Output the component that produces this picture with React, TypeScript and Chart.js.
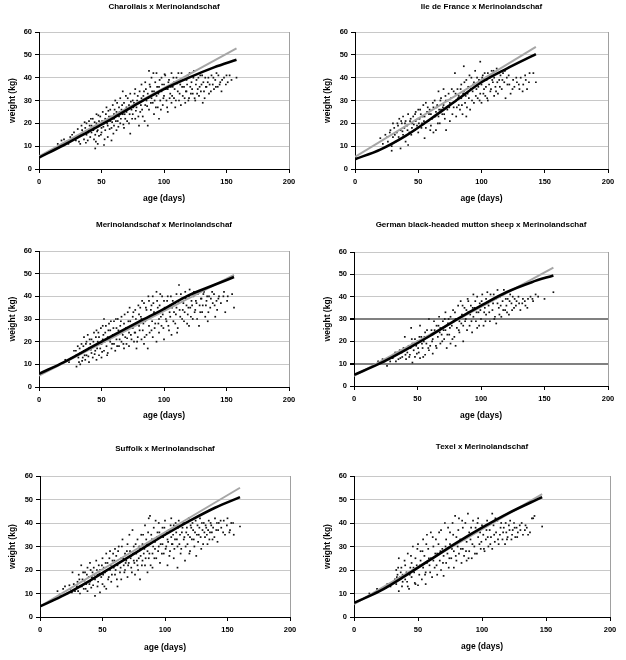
import React, { useEffect, useRef } from "react";
import { Chart, registerables } from "chart.js";

Chart.register(...registerables);

// ---------- axis settings ----------
const xMin = 0;
const xMax = 200;
const xStep = 50;
const yMin = 0;
const yMax = 60;
const yStep = 10;
const xAxisTitle = "age (days)";
const yAxisTitle = "weight (kg)";

// ---------- panel titles ----------
const titleCharollais = "Charollais x Merinolandschaf";
const titleIleDeFrance = "Ile de France x Merinolandschaf";
const titleMerino = "Merinolandschaf x Merinolandschaf";
const titleGerman = "German black-headed mutton sheep x Merinolandschaf";
const titleSuffolk = "Suffolk x Merinolandschaf";
const titleTexel = "Texel x Merinolandschaf";

// ---------- observed weights [age, weight] ----------
const charollaisPoints: number[][] = [
  [0,3.8],[0,4.5],[0,5],[0,5.5],[0,6],[0,6.5],
  [15,11],[18,12.5],[20,13],[22,12],[25,14],[27,13],[28,16],[30,14],[31,17.5],[32,12],[33,11],[33,15],[34,19],[35,16],[36,13],[37,18],[38,20],[38,15],[39,12.5],[40,17],[40,21],[41,14],[42,19],[42,16],[43,22],[44,13],[44,18],[45,9],[45,15],[46,20],[46,24],[47,17],[47,11],[48,21],[48,14.5],[49,23],[50,18],[50,16],[51,25],[52,10.5],[52,20],[53,22],[53,17],[54,27],[55,19],[55,14],[56,23],[57,21],[57,26],[58,12.5],[58,18],[59,28],[60,22],[60,24],[60,19],[61,30],[62,17],[62,25],[63,21],[64,27],[64,23],[65,20],[65,31],[66,26],[67,24],[67,34],[68,18],[68,29],[69,22],[70,27],[70,25],[71,31],[72,20],[72,28],[73,15.5],[73,33],[74,26],[75,24],[75,30],[76,29],[77,22],[77,35],[78,27],[79,32],[80,19],[80,29],[81,25],[82,37],[82,31],[83,23],[84,34],[85,28],[85,38],[86,30],[87,19],[87,33],[88,43],[88,26],[89,36],[90,31],[90,40],[91,29],[92,34],[92,24],[93,38],[94,42],[94,32],[95,27],[96,36],[96,22],[97,30],[98,40],[98,34],[99,28],[100,37],[100,32],[101,41],[102,30],[103,35],[103,25],[104,39],[105,33],[106,42],[106,29],[107,36],[108,31],[108,38],[109,27],[110,40],[111,34],[112,30],[113,37],[114,42],[115,32],[116,36],[117,29],[118,39],[118,34],[119,41],[120,31],[121,36],[122,38],[123,33],[124,43],[125,30],[126,39],[127,35],[128,32],[129,41],[130,37],[131,29],[132,34],[133,40],[134,36],[135,38],[136,33],[138,41],[139,37],[140,35],[141,39],[142,42],[143,36],[145,38],[146,34],[148,40],[150,41],[151,38],[154,39],[158,40],
  [23.5,11],[26.5,15],[29.5,12.5],[31.5,14.5],[34.5,17],[36.5,20.5],[37.5,11.5],[39.5,16],[40.5,19],[41.5,22],[43.5,17],[44.5,20.5],[45.5,12],[46.5,16.5],[47.5,23.5],[49.5,15],[50.5,21],[51.5,18.5],[52.5,13],[53.5,24],[54.5,20],[55.5,25.5],[56.5,17.5],[57.5,23],[58.5,20.5],[59.5,15.5],[60.5,26],[61.5,21],[62.5,29],[63.5,18.5],[64.5,25],[65.5,22],[66.5,28],[67.5,19.5],[68.5,24],[69.5,32],[70.5,21],[71.5,26.5],[72.5,24],[73.5,29.5],[74.5,22],[75.5,27],[76.5,33],[77.5,25.5],[78.5,30],[79.5,23],[80.5,34],[81.5,28],[82.5,26],[83.5,32],[84.5,21],[85.5,35],[86.5,27.5],[87.5,31],[88.5,37],[89.5,29],[90.5,34],[91.5,42],[92.5,30],[93.5,27],[94.5,36],[95.5,33],[96.5,39],[97.5,26],[98.5,37],[99.5,31],[100.5,41.5],[101.5,35],[102.5,27],[103.5,38],[104.5,31],[105.5,36],[106.5,32],[107.5,40],[108.5,35],[109.5,30],[110.5,37.5],[111.5,42],[112.5,33],[113.5,28],[114.5,36],[115.5,39],[116.5,31],[117.5,34],[118.5,37],[119.5,30],[120.5,42],[121.5,33],[122.5,35],[123.5,40],[124.5,31],[125.5,37],[126.5,33],[127.5,40],[128.5,36],[129.5,34],[130.5,41],[131.5,38],[132.5,31],[133.5,36],[135.5,40],[136.5,37],[137.5,34],[139.5,40],[141.5,36],[143.5,41],[144.5,37],[146.5,39],[149.5,37],[152.5,41]
];

const ileDeFrancePoints: number[][] = [
  [0,3.5],[0,4],[0,4.5],[0,5],[0,5.5],[0,6],
  [20,13.5],[22,11],[24,15],[26,12],[28,17],[29,8],[29,10],[30,20],[30,14],[31,18],[32,12],[33,16],[34,19],[35,22],[35,13],[36,9],[36,17],[37,20],[38,15],[38,23],[39,18],[40,21],[40,12],[41,19],[42,24],[42,10.5],[43,16],[44,22],[45,20],[45,18],[46,23],[47,17],[48,25],[48,21],[49,19],[50,26],[50,16],[51,22],[52,24],[53,20],[54,28],[55,13.5],[55,23],[56,29],[56,18],[57,25],[58,21],[59,26],[60,24],[60,19],[61,22],[62,27],[62,16],[63,30],[64,25],[64,17],[65,28],[66,23],[66,34],[67,20],[68,26],[68,31],[69,24],[70,35],[70,28],[71,22],[72,30],[72,17],[73,26],[74,33],[75,29],[75,21],[76,31],[77,24],[78,34],[78,27],[79,42],[80,30],[80,23],[81,35],[82,28],[82,32],[83,26],[84,37],[84,31],[85,24],[86,45],[86,34],[87,29],[88,39],[88,23],[89,33],[90,36],[90,31],[91,26],[92,40],[93,34],[94,38],[94,29],[95,43],[96,35],[97,31],[98,39],[99,47],[99,33],[100,37],[100,29],[101,41],[102,35],[103,32],[104,39],[105,42],[105,30],[106,37],[107,34],[108,43],[109,38],[110,32],[110,40],[111,36],[112,44],[113,33],[114,39],[115,41],[116,35],[117,42],[118,38],[119,31],[120,40],[122,37],[123,33],[125,39],[126,36],[128,38],[130,35],[131,40],[133,37],[135,39],[136,35],[138,42],[141,42],[143,38],
  [25.5,14],[27.5,16],[31.5,15],[33.5,20],[34.5,14],[36.5,21],[37.5,16.5],[39.5,20],[41.5,17],[43.5,21],[44.5,15],[46.5,19.5],[47.5,24],[49.5,22],[50.5,20],[51.5,26],[52.5,18],[53.5,23],[54.5,21],[57.5,27],[58.5,24],[59.5,17],[61.5,29],[63.5,23],[64.5,27],[65.5,20],[66.5,26],[67.5,30],[69.5,27],[70.5,24],[71.5,32],[73.5,30],[74.5,27],[76.5,35],[77.5,29],[79.5,33],[80.5,27],[81.5,31],[83.5,35],[84.5,28],[85.5,33],[86.5,38],[87.5,32],[88.5,27],[89.5,36],[90.5,41],[91.5,35],[92.5,30],[93.5,37],[95.5,32],[96.5,40],[97.5,36],[98.5,30],[100.5,40],[101.5,33],[102.5,42],[103.5,36],[104.5,31],[106.5,40],[107.5,35],[108.5,39],[109.5,43],[111.5,34],[112.5,38],[113.5,42],[114.5,36],[116.5,39],[118.5,43],[120.5,37],[121.5,41],[124.5,35],[127.5,40],[129.5,37],[132.5,34],[134.5,41],[137.5,38]
];

const merinoPoints: number[][] = [
  [0,3.5],[0,4],[0,4.5],[0,5],[0,5.5],[0,6],
  [21,12],[24,11],[27,13],[28,16],[30,9],[30,14],[31,18],[32,11],[33,15],[33,10],[34,19],[35,13],[36,22],[36,16],[37,12],[38,20],[38,14],[39,23],[40,17],[40,11],[41,19],[42,15],[42,21],[43,13],[44,24],[44,18],[45,16],[46,25],[46,12],[47,20],[48,14],[48,22],[49,17],[50,19],[50,13],[51,27],[51,21],[52,30],[52,16],[53,24],[54,18],[55,22],[55,15],[56,28],[57,20],[57,25],[58,17],[59,23],[60,29],[60,19],[61,16],[62,26],[62,21],[63,30],[64,18],[64,24],[65,27],[66,20],[66,31],[67,23],[68,17],[68,28],[69,22],[70,26],[70,19],[71,33],[72,24],[72,18],[73,29],[74,21],[75,31],[75,26],[76,20],[77,34],[77,24],[78,28],[78,17],[79,22],[80,32],[80,27],[81,35],[82,21],[82,30],[83,25],[84,37],[84,19],[85,29],[86,34],[86,23],[87,17],[88,38],[88,27],[89,31],[90,25],[90,36],[91,40],[91,22],[92,33],[93,28],[94,42],[94,20],[95,35],[96,30],[96,24],[97,41],[98,27],[99,32],[100,38],[100,21],[101,34],[102,29],[103,40],[104,25],[105,36],[105,31],[106,23],[107,38],[108,33],[109,28],[110,41],[110,35],[111,26],[112,45],[112,37],[113,31],[114,39],[115,34],[116,29],[117,42],[118,36],[119,32],[120,40],[120,27],[121,35],[122,38],[123,30],[124,42],[125,34],[126,37],[127,41],[128,27],[129,33],[130,39],[131,36],[132,42],[133,31],[134,38],[135,29],[136,40],[137,35],[139,37],[140,41],[141,31],[142,38],[144,40],[148,42],[149,33],[151,40],[156,35],
  [25.5,12.5],[29.5,16],[31.5,13],[32.5,17],[34.5,11.5],[35.5,18],[36.5,14],[37.5,19],[39.5,13.5],[40.5,21],[41.5,16.5],[43.5,20],[44.5,14.5],[45.5,22],[46.5,17],[47.5,24],[48.5,19],[49.5,26],[50.5,15.5],[51.5,23],[52.5,20],[53.5,27],[54.5,14],[55.5,25],[56.5,21],[57.5,29],[58.5,19],[59.5,26],[60.5,23],[61.5,30],[62.5,18],[63.5,25],[64.5,21],[65.5,29],[66.5,24],[67.5,19],[68.5,32],[69.5,26],[70.5,21.5],[71.5,29],[72.5,35],[73.5,23],[74.5,27],[75.5,33],[76.5,24],[77.5,30],[78.5,20],[79.5,36],[80.5,25],[81.5,31],[82.5,38],[83.5,28],[84.5,22],[85.5,35],[86.5,30],[87.5,40],[88.5,24],[89.5,34],[90.5,29],[91.5,37],[92.5,26],[93.5,32],[94.5,38],[95.5,28],[96.5,36],[97.5,31],[98.5,40],[99.5,26],[100.5,35],[101.5,30],[102.5,38],[103.5,27],[104.5,33],[105.5,40],[106.5,35],[107.5,29],[108.5,37],[109.5,32],[110.5,24],[111.5,38],[112.5,34],[113.5,41],[114.5,30],[115.5,37],[116.5,33],[117.5,39],[118.5,28],[119.5,35],[120.5,43],[121.5,31],[122.5,36],[123.5,40],[124.5,33],[125.5,38],[126.5,30],[127.5,42],[128.5,36],[129.5,39],[130.5,33],[131.5,41],[133.5,36],[134.5,40],[135.5,33],[137.5,39],[138.5,42],[140.5,36],[142.5,34],[143.5,39],[145.5,37],[147.5,40],[150.5,38],[154.5,41]
];

const germanPoints: number[][] = [
  [0,4.5],[0,5],[0,5.5],[0,6],
  [19,11],[21,10.5],[24,11],[26,9],[27,12],[29,13],[31,14],[33,11],[34,15],[35,12],[36,16],[38,13],[39,17],[40,22],[41,12],[42,15],[43,18],[44,14],[45,26],[46,10.5],[46,19],[47,16],[48,21],[48,13],[49,18],[50,20],[51,15],[52,27],[52,12.5],[53,22],[54,17],[55,20],[56,24],[56,14],[57,19],[58,22],[59,30],[59,16],[60,18],[61,25],[62,14.5],[62,21],[63,29],[64,24],[65,17],[65,27],[66,22],[67,31],[68,19],[68,26],[69,23],[70,29],[71,21],[72,33],[72,25],[73,17],[74,28],[75,23],[76,31],[76,19],[77,27],[78,34],[79,22],[80,30],[80,18],[81,26],[82,36],[83,29],[83,24],[84,38],[85,32],[86,20],[86,27],[87,35],[88,30],[89,25],[90,38],[90,33],[91,27],[92,36],[93,24],[94,41],[94,31],[95,35],[96,29],[97,40],[97,26],[98,33],[99,37],[100,30],[101,41],[102,27],[103,35],[104,39],[104,32],[105,42],[106,36],[107,29],[108,38],[109,34],[110,41],[111,31],[112,28],[113,43],[113,37],[114,35],[115,40],[116,31],[117,38],[118,43],[119,34],[120,36],[121,39],[122,32],[123,41],[124,37],[125,40],[126,35],[128,38],[130,37],[131,34],[133,39],[135,36],[137,39],[139,40],[141,38],[143,41],[145,40],[150,39],[157,42],
  [22.5,12],[28.5,11],[30.5,12.5],[32.5,15],[36.5,12.5],[37.5,15],[40.5,14],[41.5,16.5],[43.5,13],[44.5,17],[45.5,21],[47.5,19],[49.5,14.5],[50.5,17],[51.5,22],[53.5,19],[54.5,13],[55.5,22],[57.5,25],[58.5,17],[60.5,23],[61.5,20],[63.5,25],[64.5,18],[66.5,27],[67.5,24],[69.5,20],[70.5,25],[71.5,30],[73.5,23],[74.5,30],[75.5,26],[77.5,21],[78.5,29],[79.5,33],[81.5,30],[82.5,25],[84.5,28],[85.5,36],[87.5,29],[88.5,34],[89.5,39],[91.5,32],[92.5,29],[93.5,35],[95.5,38],[96.5,33],[98.5,27],[99.5,34],[100.5,38],[102.5,33],[103.5,29],[105.5,37],[106.5,33],[107.5,41],[109.5,37],[110.5,30],[111.5,39],[114.5,32],[115.5,36],[117.5,34],[119.5,39],[120.5,33],[122.5,38],[124.5,34],[126.5,39],[127.5,36],[129.5,40],[132.5,37],[134.5,38],[136.5,35],[140.5,39]
];

const suffolkPoints: number[][] = [
  [0,3],[0,3.8],[0,4.5],[0,5.2],[0,6],[0,7],
  [14,11],[16,9.5],[20,13],[22,10],[24,12],[26,19],[27,14],[28,11],[30,15],[31,18],[32,10],[32,13],[33,22],[34,16],[35,12],[36,19],[37,14],[38,21],[38,11],[39,17],[40,23],[40,15],[41,12.5],[42,19],[43,21],[44,9],[44,16],[45,24],[46,13],[46,18],[47,22],[48,10.5],[48,20],[49,17],[50,25],[50,14],[51,21],[52,19],[53,27],[53,12],[54,23],[55,17],[56,28],[56,20],[57,15],[58,24],[59,21],[60,18],[60,29],[61,26],[62,13],[62,22],[63,30],[64,19],[65,25],[65,16],[66,33],[67,22],[68,27],[68,20],[69,24],[70,31],[70,17],[71,23],[72,28],[73,26],[73,21],[74,37],[75,24],[75,30],[76,18],[77,27],[78,33],[78,22],[79,25],[80,29],[80,16],[81,35],[82,24],[82,31],[83,27],[84,39],[84,22],[85,33],[86,28],[86,19],[87,42],[87,25],[88,43],[88,31],[89,35],[90,27],[90,21],[91,38],[92,32],[92,29],[93,25],[94,36],[95,30],[95,40],[96,23],[97,34],[98,31],[98,38],[99,27],[100,41],[100,35],[101,30],[102,22],[102,33],[103,37],[104,28],[105,42],[105,34],[106,31],[107,25],[107,39],[108,33],[109,36],[110,21],[110,30],[111,41],[112,35],[113,29],[114,38],[115,33],[116,24],[116,40],[117,36],[118,31],[119,42],[120,34],[120,28],[121,38],[122,40],[123,33],[124,36],[125,26],[126,39],[127,35],[128,42],[129,29],[130,37],[131,40],[132,34],[133,38],[134,31],[135,41],[136,36],[137,39],[138,33],[140,42],[141,37],[142,32],[143,40],[145,38],[147,41],[148,35],[150,42],[152,37],[153,40],[155,35],[160,38.5],
  [18.5,12],[23.5,13.5],[25.5,10.5],[29.5,13],[30.5,11],[31.5,16],[33.5,13],[34.5,19],[35.5,15.5],[36.5,12],[37.5,18],[39.5,14],[40.5,20],[41.5,17],[42.5,13.5],[43.5,18],[45.5,20],[46.5,15],[47.5,18.5],[49.5,22],[50.5,18],[51.5,13],[52.5,23],[53.5,20],[54.5,16],[55.5,25],[56.5,22],[57.5,18],[58.5,27],[59.5,24],[60.5,20],[61.5,16],[62.5,28],[63.5,23],[64.5,21],[65.5,30],[66.5,25],[67.5,19],[68.5,23],[69.5,28],[70.5,22],[71.5,35],[72.5,25],[73.5,19],[74.5,27],[75.5,23],[76.5,31],[77.5,24],[78.5,20],[79.5,30],[80.5,26],[81.5,22],[82.5,35],[83.5,29],[84.5,25],[85.5,31],[86.5,36],[87.5,27],[88.5,22],[89.5,33],[90.5,30],[91.5,25],[92.5,41],[93.5,34],[94.5,28],[95.5,36],[96.5,31],[97.5,27],[98.5,34],[99.5,38],[100.5,29],[101.5,36],[102.5,32],[103.5,26],[104.5,39],[105.5,31],[106.5,35],[107.5,29],[108.5,40],[109.5,33],[110.5,38],[111.5,31],[112.5,27],[113.5,36],[114.5,40],[115.5,34],[116.5,30],[117.5,38],[118.5,35],[119.5,27],[120.5,39],[121.5,33],[122.5,37],[123.5,30],[124.5,41],[125.5,35],[126.5,32],[127.5,38],[128.5,34],[129.5,40],[130.5,31],[131.5,36],[132.5,39],[133.5,35],[134.5,37],[135.5,33],[136.5,40],[137.5,36],[138.5,38],[139.5,34],[141.5,40],[142.5,37],[144.5,41],[146.5,36],[149.5,39],[151.5,36],[154.5,40]
];

const texelPoints: number[][] = [
  [0,5],[0,5.5],[0,6],[0,6.5],[0,7],[0,8],
  [12,10],[18,12],[20,11.5],[25,12.5],[26,14],[32,16],[33,20],[33,14],[34,18],[35,25],[35,11],[36,17],[37,21],[38,15],[38,18],[40,22],[40,16],[41,19],[42,13],[42,27],[43,12],[44,21],[45,17],[45,23],[46,30],[47,19],[48,25],[48,14],[49,22],[50,13.5],[50,31],[51,18],[52,24],[52,28],[53,16],[54,33],[54,21],[55,26],[56,14],[56,19],[57,35],[57,23],[58,29],[59,22],[60,36],[60,25],[61,17],[62,30],[62,24],[63,21],[64,33],[65,27],[65,18],[66,31],[67,24],[68,37],[68,20],[69,29],[70,26],[70,17.5],[71,40],[72,23],[72,33],[73,27],[74,21],[75,36],[75,31],[76,25],[77,40],[78,21],[78,28],[79,43],[80,34],[80,24],[81,30],[82,42],[82,27],[83,33],[84,23],[85,38],[85,29],[86,26],[87,40],[88,24],[88,32],[89,44],[90,28],[90,36],[91,33],[92,25],[93,41],[94,30],[95,38],[96,27],[97,34],[97,42],[98,31],[99,29],[100,39],[101,35],[102,28],[103,33],[104,41],[105,30],[106,37],[107,34],[108,44],[108,29],[109,39],[110,32],[111,36],[112,41],[113,31],[114,35],[115,40],[116,33],[117,38],[118,31],[119,36],[120,34],[121,39],[122,41],[123,33],[124,37],[125,40],[126,34],[127,38],[128,36],[130,37],[131,40],[132,35],[134,39],[135,38],[136,35],[139,42],[140,42],[141,43],[147,38.5],
  [28.5,13],[33.5,17],[34.5,21],[36.5,19],[37.5,13],[39.5,24],[41.5,15],[43.5,18],[44.5,26],[46.5,21],[47.5,14.5],[49.5,29],[51.5,22],[53.5,28],[55.5,18],[56.5,31],[58.5,25],[59.5,19],[61.5,34],[63.5,27],[64.5,22],[66.5,36],[67.5,28],[69.5,23],[71.5,30],[73.5,38],[74.5,25],[76.5,29],[77.5,35],[79.5,26],[81.5,37],[83.5,29],[84.5,41],[86.5,33],[87.5,28],[89.5,25],[91.5,38],[92.5,31],[94.5,27],[96.5,40],[98.5,36],[99.5,32],[101.5,29],[103.5,37],[104.5,34],[106.5,31],[109.5,35],[110.5,42],[112.5,33],[114.5,38],[116.5,36],[118.5,40],[119.5,33],[121.5,37],[123.5,35],[125.5,38],[127.5,34],[129.5,39],[133.5,37],[137.5,36]
];

// ---------- fitted growth curves (black) [age, weight] ----------
const charollaisCurve: number[][] = [[0,5],[20,10.5],[40,16.5],[60,22.5],[80,29],[100,35],[120,40],[140,44.5],[158,47.8]];
const ileDeFranceCurve: number[][] = [[0,4.3],[20,8.5],[40,14.5],[60,22],[80,30],[100,38],[120,44],[143,50.3]];
const merinoCurve: number[][] = [[0,5.8],[20,11],[40,17],[60,23],[80,28.8],[100,34.5],[120,40.5],[140,45],[156,48.5]];
const germanCurve: number[][] = [[0,5],[20,10],[40,16],[60,22.5],[80,29.5],[100,36],[120,42],[140,46.5],[157,49.5]];
const suffolkCurve: number[][] = [[0,4.5],[20,9.5],[40,15.5],[60,22],[80,28.5],[100,35],[120,41],[140,46.5],[160,51]];
const texelCurve: number[][] = [[0,6],[20,11],[40,17.5],[60,24.5],[80,31.5],[100,38],[120,44],[147,51]];

// ---------- linear fits (grey) [age, weight] ----------
const charollaisLine: number[][] = [[0,5.5],[158,52.8]];
const ileDeFranceLine: number[][] = [[0,5.3],[143,53.5]];
const merinoLine: number[][] = [[0,5],[156,49.5]];
const germanLine: number[][] = [[0,4.5],[157,53]];
const suffolkLine: number[][] = [[0,4.5],[160,55]];
const texelLine: number[][] = [[0,5.5],[147,52.3]];

// ---------- style ----------
const FONT = "'Liberation Sans', Arial, sans-serif";
const GRID = "#c8c8c8";
const GREY_LINE = "#a6a6a6";

type Box = {
  left: number; top: number; width: number; height: number;
  yAxisWidth: number; xAxisHeight: number; padRight: number;
  titleTop: number; titleBottom: number; yTitlePad: number;
};

const frameEdge = {
  id: "frameEdge",
  beforeDatasetsDraw(chart: any) {
    const { ctx, chartArea } = chart;
    ctx.save();
    ctx.strokeStyle = "#a0a0a0";
    ctx.lineWidth = 1;
    ctx.beginPath();
    ctx.moveTo(Math.round(chartArea.right) + 0.5, chartArea.top);
    ctx.lineTo(Math.round(chartArea.right) + 0.5, chartArea.bottom);
    ctx.stroke();
    ctx.restore();
  },
};

function Panel(props: {
  title: string; points: number[][]; curve: number[][]; line: number[][];
  box: Box; darkLines?: number[];
}) {
  const ref = useRef<HTMLCanvasElement | null>(null);
  const { title, points, curve, line, box, darkLines } = props;
  useEffect(() => {
    if (!ref.current) return;
    const dark = darkLines || [];
    const chart = new Chart(ref.current, {
      type: "scatter",
      data: {
        datasets: [
          {
            type: "line",
            data: curve.map((p) => ({ x: p[0], y: p[1] })),
            borderColor: "#000",
            borderWidth: 2.6,
            pointRadius: 0,
            cubicInterpolationMode: "monotone",
            fill: false,
          } as any,
          {
            type: "line",
            data: line.map((p) => ({ x: p[0], y: p[1] })),
            borderColor: GREY_LINE,
            borderWidth: 2,
            pointRadius: 0,
            fill: false,
          } as any,
          {
            data: points.map((p) => ({ x: p[0], y: p[1] })),
            backgroundColor: "#111",
            borderWidth: 0,
            pointRadius: 1.2,
            pointStyle: "rect",
          },
        ],
      },
      options: {
        animation: false,
        responsive: false,
        events: [],
        layout: { padding: { left: 0, right: box.padRight, top: 0, bottom: 0 } },
        plugins: {
          legend: { display: false },
          tooltip: { enabled: false },
          title: {
            display: true,
            text: title,
            fullSize: false,
            color: "#000",
            font: { family: FONT, size: 8, weight: "bold", lineHeight: 1.2 },
            padding: { top: box.titleTop, bottom: box.titleBottom },
          },
        },
        scales: {
          x: {
            type: "linear",
            min: xMin,
            max: xMax,
            afterFit: (s: any) => { s.height = box.xAxisHeight; },
            ticks: {
              stepSize: xStep,
              color: "#000",
              padding: 4,
              maxRotation: 0,
              font: { family: FONT, size: 7.5, weight: "bold" },
            },
            grid: { drawOnChartArea: false, drawTicks: true, tickLength: 4, tickColor: "#000" },
            border: { color: "#000", width: 1 },
            title: {
              display: true,
              text: xAxisTitle,
              color: "#000",
              padding: 0,
              font: { family: FONT, size: 8.5, weight: "bold", lineHeight: 1.2 },
            },
          },
          y: {
            type: "linear",
            min: yMin,
            max: yMax,
            afterFit: (s: any) => { s.width = box.yAxisWidth; },
            ticks: {
              stepSize: yStep,
              color: "#000",
              padding: 3,
              font: { family: FONT, size: 7.5, weight: "bold" },
            },
            grid: {
              color: (c: any) => (c.tick && dark.includes(c.tick.value) ? "#808080" : GRID),
              lineWidth: (c: any) => (c.tick && dark.includes(c.tick.value) ? 2 : 1),
              tickColor: "#000",
              tickLength: 4,
            },
            border: { color: "#000", width: 1 },
            title: {
              display: true,
              text: yAxisTitle,
              color: "#000",
              padding: { top: box.yTitlePad, bottom: 0 },
              font: { family: FONT, size: 8.5, weight: "bold", lineHeight: 1.2 },
            },
          },
        },
      },
      plugins: [frameEdge],
    } as any);
    return () => chart.destroy();
  }, []);
  return (
    <canvas
      ref={ref}
      width={box.width}
      height={box.height}
      style={{ position: "absolute", left: box.left, top: box.top, width: box.width, height: box.height }}
    />
  );
}

const boxes: Box[] = [
  { left: 0, top: 0, width: 313, height: 204, yAxisWidth: 39, xAxisHeight: 35, padRight: 24, titleTop: 2, titleBottom: 20.4, yTitlePad: 8 },
  { left: 313, top: 0, width: 313, height: 204, yAxisWidth: 42, xAxisHeight: 35, padRight: 18, titleTop: 2, titleBottom: 20.4, yTitlePad: 10 },
  { left: 0, top: 210, width: 313, height: 211, yAxisWidth: 39, xAxisHeight: 34, padRight: 24, titleTop: 10, titleBottom: 21.4, yTitlePad: 8 },
  { left: 313, top: 210, width: 313, height: 211, yAxisWidth: 41, xAxisHeight: 35, padRight: 18, titleTop: 10, titleBottom: 22.4, yTitlePad: 10 },
  { left: 0, top: 430, width: 313, height: 223, yAxisWidth: 40, xAxisHeight: 36, padRight: 23, titleTop: 14, titleBottom: 22.4, yTitlePad: 8 },
  { left: 313, top: 430, width: 313, height: 222, yAxisWidth: 41, xAxisHeight: 35, padRight: 16, titleTop: 12, titleBottom: 24.4, yTitlePad: 10 },
];

export default function App() {
  return (
    <div style={{ position: "absolute", left: 0, top: 0, width: 626, height: 660, background: "#fff" }}>
      <Panel title={titleCharollais} points={charollaisPoints} curve={charollaisCurve} line={charollaisLine} box={boxes[0]} />
      <Panel title={titleIleDeFrance} points={ileDeFrancePoints} curve={ileDeFranceCurve} line={ileDeFranceLine} box={boxes[1]} />
      <Panel title={titleMerino} points={merinoPoints} curve={merinoCurve} line={merinoLine} box={boxes[2]} />
      <Panel title={titleGerman} points={germanPoints} curve={germanCurve} line={germanLine} box={boxes[3]} darkLines={[10, 30]} />
      <Panel title={titleSuffolk} points={suffolkPoints} curve={suffolkCurve} line={suffolkLine} box={boxes[4]} />
      <Panel title={titleTexel} points={texelPoints} curve={texelCurve} line={texelLine} box={boxes[5]} />
    </div>
  );
}
